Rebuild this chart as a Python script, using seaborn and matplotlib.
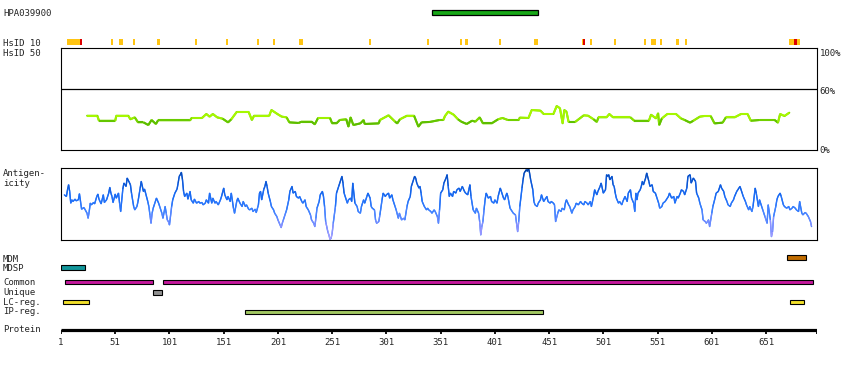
import numpy as np
import matplotlib
matplotlib.use("Agg")
import matplotlib.pyplot as plt
import seaborn as sns
from matplotlib.collections import LineCollection
from matplotlib.colors import LinearSegmentedColormap, Normalize

sns.set_style("white")
plt.rcParams['font.family'] = ['DejaVu Sans Mono', 'DejaVu Sans']

# ---------------- data ----------------
protein_len = 698
antibody_name = "HPA039900"
hpa_span = (343, 441)

hsid10_yellow = [(6.5, 8.1), (8.7, 18.5), (47.4, 49.2), (54.5, 57.9), (67.4, 69.5), (89.5, 92),
                 (124.3, 126.4), (153, 155), (182, 183.8), (196.8, 198.3), (220, 223.7), (284.7, 286.2),
                 (338.5, 340), (368.9, 370.4), (373.5, 376), (404.8, 406.4), (437.1, 440.5),
                 (481.4, 484.4), (488.7, 490.3), (510.9, 512.5), (538.5, 540.1), (544.9, 549.3),
                 (553.2, 554.8), (567.9, 570.4), (576.2, 577.8), (672.2, 682.3)]
hsid10_red = [(18.5, 20.1), (482.3, 483.8), (676.8, 679.6)]

cons_res = [25, 34.5, 36, 51, 52, 63, 65, 69, 72, 77, 81.5, 84.5, 88.5, 90.5, 120, 121.5, 131, 135, 138, 141,
            145, 150, 155, 158, 163, 174, 177, 179, 193, 195, 200.5, 204.5, 209, 211.5, 220, 223, 232, 235, 238, 249,
            251, 255, 258, 264, 266, 268, 270.5, 277, 280, 281, 294, 295, 303, 309, 311, 313.5, 320, 326.5, 330.5, 333.5,
            341, 350, 353.5, 355, 358, 363, 367, 370, 375, 380, 383, 387, 390, 398, 404, 408, 413, 423, 424, 432,
            435, 443, 446, 455, 458, 461, 463.5, 465, 467, 469, 475, 483, 487, 492, 495, 496.5, 504, 506.5, 510, 526,
            529.5, 543, 545, 549.5, 551.5, 552.5, 555, 560, 568, 572.5, 576, 581, 584, 590, 594, 600, 603.5, 611, 614, 622,
            628, 634, 637, 645, 659, 662, 664, 668, 672.5]
cons_val = [33.6, 33.6, 28.7, 28.7, 33.6, 33.6, 30.1, 32, 27.1, 27.1, 24.5, 29.4, 25.5, 29.1, 29.1, 31.4, 31.4, 35.3, 32.7, 35.3,
            32, 30.7, 27.1, 30.1, 37.3, 37.3, 29.4, 33.6, 33.6, 39.2, 35.3, 32.7, 32, 27.1, 26.5, 27.8, 27.8, 25.2, 31.4, 31.4,
            26.1, 26.1, 29.4, 30.1, 22.9, 32, 24.5, 26.1, 29.4, 25.5, 26.1, 29.4, 34, 27.8, 26.1, 30.1, 33.6, 33.6, 22.9, 27.1,
            27.5, 29.4, 29.4, 33.3, 37.6, 34.6, 30.1, 27.8, 25.5, 28.7, 27.8, 32, 26.1, 26.1, 30.1, 31.4, 29.4, 29.4, 31.7, 31.4,
            39.2, 38.6, 35.3, 35.3, 43.1, 41, 26.1, 39.2, 37.6, 27.5, 27.5, 34, 33.6, 30.1, 27.5, 32, 32, 35.3, 32, 32,
            28.7, 28.7, 34.6, 31, 36, 24.5, 31, 35.3, 35.3, 31, 29.4, 26.8, 28.7, 32.7, 33.3, 33.3, 26.1, 26.8, 32, 32,
            35.3, 35.3, 28.7, 29.4, 29.4, 26.8, 35.3, 33.3, 36.6]

anti_res = [4, 6, 7, 8, 9, 10, 11, 12, 14, 15, 17, 18, 19, 20, 22, 23, 25, 26, 27, 28,
            29, 31, 32, 34, 35, 36, 38, 40, 41, 43, 45, 46, 47, 48, 49, 51, 52, 54, 55, 56,
            58, 59, 61, 62, 64, 65, 66, 68, 69, 71, 72, 74, 75, 77, 78, 79, 81, 82, 83, 84,
            85, 86, 88, 89, 91, 92, 94, 95, 97, 98, 99, 100, 101, 103, 104, 106, 108, 109, 110, 111,
            112, 113, 114, 115, 117, 118, 120, 121, 123, 124, 126, 128, 129, 131, 132, 134, 135, 137, 138, 140,
            141, 143, 144, 146, 148, 149, 151, 152, 154, 155, 157, 158, 160, 161, 163, 164, 166, 168, 169, 171,
            172, 174, 175, 177, 178, 180, 181, 183, 184, 185, 186, 188, 189, 190, 191, 192, 194, 195, 197, 198,
            200, 201, 203, 204, 205, 206, 208, 209, 211, 212, 214, 215, 217, 218, 220, 221, 223, 224, 226, 227,
            229, 231, 232, 234, 235, 236, 237, 239, 240, 242, 243, 244, 245, 247, 248, 249, 250, 251, 252, 254,
            255, 257, 258, 260, 261, 262, 264, 265, 266, 268, 269, 270, 272, 274, 275, 277, 278, 280, 281, 283,
            284, 286, 287, 288, 290, 291, 292, 294, 295, 297, 298, 300, 301, 303, 304, 306, 307, 309, 310, 312,
            313, 315, 317, 318, 320, 321, 323, 324, 326, 327, 328, 329, 331,
            332, 333, 334, 336, 338, 339, 340, 342, 343, 345, 346, 348, 349, 350, 351, 353, 354, 356, 357, 358,
            359, 360, 362, 363, 365, 366, 368, 369, 371, 373, 374, 376, 377, 378, 379, 381, 383, 384, 386, 387,
            388, 389, 390, 391, 392, 393, 395, 397, 398, 400, 401, 403, 404, 406, 407, 409, 410, 412, 413, 415,
            417, 418, 420, 421, 422, 423, 424, 426, 427, 428, 430, 431, 432, 433, 434, 436, 437, 438, 440, 441,
            443, 444, 446, 447, 449, 450, 452, 453, 455, 456, 457, 459, 460, 462, 463, 465, 466, 467, 469, 470,
            472, 473, 475, 476, 478, 480, 481, 483, 484, 486, 487, 489, 490, 492, 493, 495, 496, 498, 499, 501,
            503, 504, 505, 506, 507, 509, 510, 511, 512, 513, 515, 516, 518, 519, 521, 523, 524, 526, 527, 529,
            530, 531, 532, 533, 535, 536, 537, 538, 540, 541, 543, 544, 546, 547, 549, 550, 552, 553, 555, 556,
            558, 559, 561, 562, 564, 566, 567, 569, 570, 572, 573, 575, 576, 578, 579, 581, 582, 584, 586, 587,
            589, 590, 592, 593, 595, 596, 598, 599, 601, 602, 604, 605, 607, 609, 610, 612, 613, 615, 616, 618,
            619, 621, 622, 624, 625, 627, 629, 630, 632, 633, 635, 636, 638, 639, 641, 642, 644, 645, 647, 648,
            650, 652, 653, 655, 656, 657, 658, 660, 661, 662, 664, 665, 667, 668, 670, 672, 673, 675, 676, 678,
            679, 681, 682, 684, 685, 687, 688, 690, 692, 693]
anti_val = [135, 130, 150, 165, 145, 110, 120, 115, 122, 117, 120, 138, 115, 92, 97, 92, 80, 65, 85, 110,
            105, 112, 108, 130, 137, 122, 108, 135, 112, 120, 140, 157, 140, 130, 112, 137, 125, 140, 110, 85,
            152, 170, 160, 185, 172, 165, 140, 100, 90, 100, 115, 155, 175, 145, 152, 140, 115, 100, 75, 50,
            80, 95, 115, 125, 110, 100, 80, 65, 100, 80, 60, 55, 45, 100, 120, 140, 152, 170, 190, 195,
            202, 180, 145, 130, 140, 122, 145, 120, 110, 122, 110, 115, 110, 112, 105, 110, 120, 110, 140, 110,
            125, 110, 115, 105, 120, 130, 155, 135, 120, 130, 115, 140, 95, 80, 115, 125, 110, 100, 115, 100,
            105, 92, 90, 95, 85, 92, 82, 105, 140, 145, 120, 152, 160, 175, 160, 140, 115, 100, 90, 80,
            70, 60, 45, 37, 50, 60, 80, 90, 120, 145, 160, 140, 145, 130, 125, 130, 115, 110, 120, 100,
            90, 75, 60, 50, 40, 65, 95, 115, 135, 145, 130, 100, 55, 25, 15, 2, 5, 20, 50, 100,
            140, 160, 170, 190, 170, 140, 120, 110, 120, 125, 115, 170, 110, 100, 85, 80, 100, 120, 110, 130,
            140, 125, 100, 95, 90, 60, 50, 55, 75, 120, 140, 130, 135, 140, 125, 135, 120, 100, 90, 65,
            80, 60, 65, 60, 100, 115, 130, 160, 180, 190, 185, 170, 155,
            160, 140, 115, 100, 90, 95, 90, 85, 80, 90, 85, 70, 50, 90, 140, 150, 170, 185, 195, 160,
            130, 140, 130, 145, 140, 150, 155, 145, 160, 145, 140, 135, 150, 165, 130, 90, 80, 95, 80, 55,
            15, 40, 55, 90, 120, 140, 125, 130, 115, 110, 120, 110, 130, 155, 145, 125, 120, 140, 130, 95,
            85, 80, 75, 50, 25, 55, 100, 155, 180, 200, 210, 205, 215, 200, 180, 150, 115, 105, 100, 110,
            120, 135, 115, 120, 130, 115, 110, 115, 110, 105, 55, 80, 90, 85, 95, 90, 110, 120, 105, 100,
            80, 90, 100, 110, 105, 115, 110, 105, 115, 110, 105, 115, 100, 130, 150, 135, 145, 160, 170, 140,
            150, 195, 190, 195, 180, 190, 165, 160, 140, 125, 110, 115, 105, 115, 130, 115, 140, 150, 125, 110,
            85, 140, 120, 140, 150, 160, 175, 165, 185, 200, 175, 160, 165, 145, 140, 130, 110, 95, 100, 110,
            115, 120, 130, 140, 125, 130, 110, 130, 125, 140, 150, 145, 135, 155, 190, 195, 170, 185, 175, 140,
            125, 110, 90, 60, 55, 50, 60, 40, 80, 100, 125, 140, 145, 165, 155, 145, 130, 115, 105, 100,
            110, 120, 130, 145, 150, 160, 140, 130, 115, 105, 90, 100, 85, 100, 155, 140, 100, 120, 100, 90,
            70, 50, 105, 60, 10, 25, 70, 100, 120, 130, 140, 130, 105, 100, 95, 100, 90, 95, 100, 95,
            90, 85, 115, 80, 75, 82, 80, 70, 55, 40]

track_labels = ["MDM", "MDSP", "Common", "Unique", "LC-reg.", "IP-reg."]
mdm_spans = [(670.5, 687.5)]
mdsp_spans = [(1, 23)]
common_spans = [(4.5, 85.5), (95.5, 694)]
unique_spans = [(86, 94.5)]
lc_spans = [(3, 27), (673, 686)]
ip_spans = [(171, 445)]
protein_ticks = [1, 51, 101, 151, 201, 251, 301, 351, 401, 451, 501, 551, 601, 651]

# ---------------- figure ----------------
W, H = 850, 370
fig = plt.figure(figsize=(W / 100, H / 100), dpi=100)
fig.patch.set_facecolor("white")
FS = 6.5
X0, X1 = 61, 817


def fx(px):
    return px / W


def fy(py):
    return 1 - py / H


def panel(top, bottom):
    return fig.add_axes([fx(X0), fy(bottom), (X1 - X0) / W, (bottom - top) / H])


ax = fig.add_axes([fx(X0), 0, (X1 - X0) / W, 1])
ax.set_xlim(1, protein_len)
ax.set_ylim(H, 0)
ax.axis("off")

# antibody bar
ax.barh(12.5, hpa_span[1] - hpa_span[0], left=hpa_span[0], height=4.4,
        color="#18a818", edgecolor="black", linewidth=0.9)

# HsID 10 marks (at least ~2 px wide)
for s, e in hsid10_yellow:
    w = max(e - s, 1.8)
    ax.bar(s, 5.6, width=w, bottom=39.2, align="edge", color="#ffc412", linewidth=0)
for s, e in hsid10_red:
    w = max(e - s, 1.8)
    ax.bar(s, 5.6, width=w, bottom=39.2, align="edge", color="#dd0000", linewidth=0)

# feature tracks
tracks = [(mdm_spans, 257.8, 5.0, "#c06c00"),
          (mdsp_spans, 267.3, 5.6, "#12969a"),
          (common_spans, 282.3, 4.0, "#c4189c"),
          (unique_spans, 292.3, 4.4, "#909090"),
          (lc_spans, 302.2, 4.2, "#f2e02a"),
          (ip_spans, 312.2, 4.2, "#a2c862")]
for spans, yc, h, col in tracks:
    for s, e in spans:
        ax.barh(yc, e - s, left=s, height=h, color=col, edgecolor="black", linewidth=0.8)

# protein axis
ax.hlines(329.6, 1, protein_len, color="black", linewidth=2.3)
ax.vlines(protein_ticks + [protein_len], 329.6, 334.2, color="black", linewidth=1.3)
for t in protein_ticks:
    ax.text(t, 345, str(t), ha="center", va="baseline", fontsize=FS)

# conservation panel
axc = panel(48, 150)
axc.set_xlim(1, protein_len)
axc.set_ylim(0, 100)
axc.set_xticks([])
axc.set_yticks([])
for sp in axc.spines.values():
    sp.set_color("black")
    sp.set_linewidth(0.8)
axc.axhline(60, color="black", linewidth=0.9)
sns.lineplot(x=cons_res, y=cons_val, ax=axc, color="#7fd800", linewidth=1.4, sort=False)
cmap_c = LinearSegmentedColormap.from_list("cons", ["#5cbc00", "#66c800", "#9cf000", "#a6f800"])
pts = np.column_stack([cons_res, cons_val]).reshape(-1, 1, 2)
segs = np.concatenate([pts[:-1], pts[1:]], axis=1)
mid = (np.array(cons_val[:-1]) + np.array(cons_val[1:])) / 2
lc = LineCollection(segs, cmap=cmap_c, norm=Normalize(27, 33), linewidth=1.5, capstyle="butt")
lc.set_array(mid)
axc.add_collection(lc)

# antigenicity panel
axa = panel(168, 240)
axa.set_xlim(1, protein_len)
axa.set_ylim(0, 215)
axa.set_xticks([])
axa.set_yticks([])
for sp in axa.spines.values():
    sp.set_color("black")
    sp.set_linewidth(0.8)
sns.lineplot(x=anti_res, y=anti_val, ax=axa, color="#2a78ff", linewidth=0.9, sort=False)
cmap_a = LinearSegmentedColormap.from_list(
    "anti", [(0, "#b0a0ff"), (0.2, "#8a90ff"), (0.4, "#3f82ff"), (0.6, "#1a6cf5"),
             (0.85, "#0850c8"), (1.0, "#003c98")])
pts = np.column_stack([anti_res, anti_val]).reshape(-1, 1, 2)
segs = np.concatenate([pts[:-1], pts[1:]], axis=1)
mid = (np.array(anti_val[:-1]) + np.array(anti_val[1:])) / 2
la = LineCollection(segs, cmap=cmap_a, norm=Normalize(0, 215), linewidth=1.0)
la.set_array(mid)
axa.add_collection(la)

# labels
left_labels = [(antibody_name, 16.5), ("HsID 10", 45.5), ("HsID 50", 55.5),
               ("Antigen-", 176.0), ("icity", 186.0),
               ("MDM", 261.5), ("MDSP", 270.6), ("Common", 285.0), ("Unique", 295.0),
               ("LC-reg.", 304.6), ("IP-reg.", 314.4), ("Protein", 331.5)]
for txt, yb in left_labels:
    fig.text(fx(3), fy(yb), txt, fontsize=FS, ha="left", va="baseline")
for txt, yb in [("100%", 55.6), ("60%", 94.0), ("0%", 153.0)]:
    fig.text(fx(819.5), fy(yb), txt, fontsize=FS, ha="left", va="baseline")

fig.savefig("out.png", dpi=100, facecolor="white")
